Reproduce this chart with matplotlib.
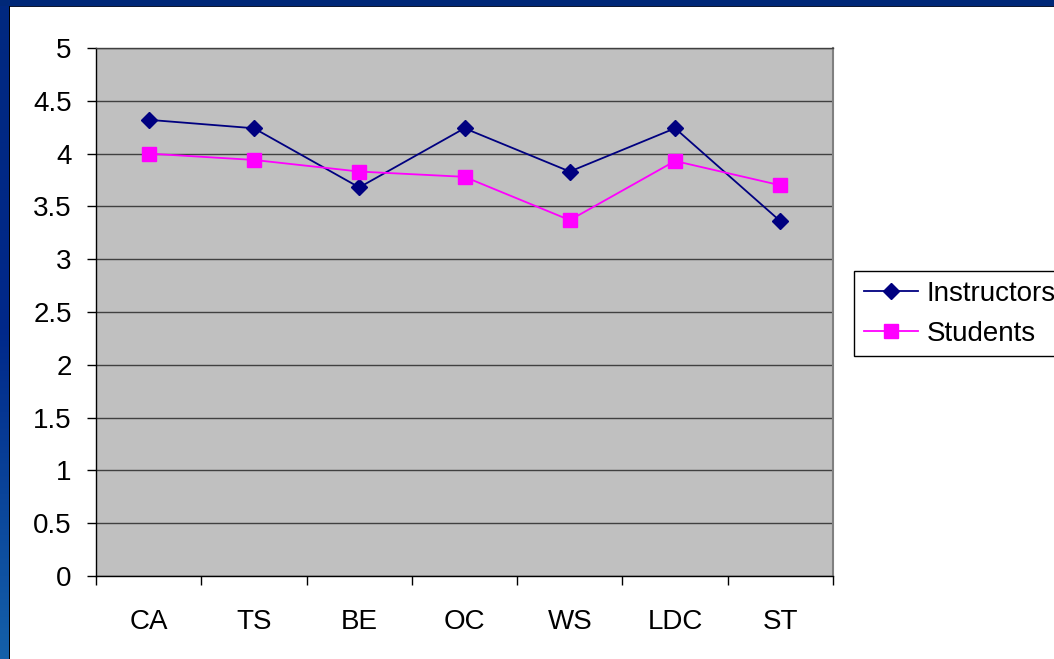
import matplotlib
matplotlib.use("Agg")
import matplotlib.pyplot as plt
import numpy as np
from matplotlib.patches import Rectangle
from matplotlib.colors import LinearSegmentedColormap

categories = ["CA", "TS", "BE", "OC", "WS", "LDC", "ST"]
instructors = [4.32, 4.24, 3.68, 4.24, 3.83, 4.24, 3.36]
students = [4.00, 3.94, 3.83, 3.78, 3.37, 3.93, 3.70]
yticks = [0, 0.5, 1, 1.5, 2, 2.5, 3, 3.5, 4, 4.5, 5]
ytick_labels = ["0", "0.5", "1", "1.5", "2", "2.5", "3", "3.5", "4", "4.5", "5"]

plt.rcParams['font.family'] = ['Liberation Sans', 'DejaVu Sans']
FS = 20

W, H = 1054, 659
fig = plt.figure(figsize=(W / 100, H / 100), dpi=100, facecolor='white')

# blue frame: left gradient strip and top strip
grad_ax = fig.add_axes([0, 0, 9 / W, 1])
grad = np.linspace(0, 1, 256).reshape(-1, 1)
cmap = LinearSegmentedColormap.from_list("bl", ["#1460aa", "#00288a", "#002880"])
grad_ax.imshow(grad, aspect='auto', cmap=cmap, origin='lower', extent=[0, 1, 0, 1])
grad_ax.set_axis_off()
fig.add_artist(Rectangle((0, 1 - 6 / H), 1, 6 / H, transform=fig.transFigure,
                         facecolor='#002878', edgecolor='none', zorder=5))
fig.add_artist(Rectangle((9 / W, 1 - 7 / H), 1, 1 / H, transform=fig.transFigure,
                         facecolor='#101830', edgecolor='none', zorder=5))
fig.add_artist(Rectangle((9 / W, 0), 1.2 / W, 1 - 6 / H, transform=fig.transFigure,
                         facecolor='#000000', edgecolor='none', zorder=5))

ax = fig.add_axes([96 / W, 1 - 576 / H, (833 - 96) / W, (576 - 48) / H])
ax.set_facecolor('#c0c0c0')

x = np.arange(len(categories))
ax.plot(x, instructors, color='#000080', lw=1.3, marker='D', ms=8.0,
        markeredgecolor='#000080', markerfacecolor='#000080', label='Instructors', zorder=3)
ax.plot(x, students, color='#ff00ff', lw=1.3, marker='s', ms=9.4,
        markeredgecolor='#ff00ff', markerfacecolor='#ff00ff', label='Students', zorder=3)

ax.set_xlim(-0.5, len(categories) - 0.5)
ax.set_ylim(0, 5)
ax.set_yticks(yticks)
ax.set_yticklabels(ytick_labels, fontsize=FS)
ax.yaxis.grid(True, color='#404040', lw=1.0)
ax.set_axisbelow(True)

ax.set_xticks(x)
ax.set_xticklabels(categories, fontsize=FS)
ax.set_xticks(np.arange(len(categories) + 1) - 0.5, minor=True)
ax.tick_params(axis='x', which='major', length=0, pad=23.5)
ax.tick_params(axis='x', which='minor', length=6.5, width=1, color='black', direction='out')
ax.tick_params(axis='y', length=6.5, width=1, color='black', direction='out', pad=11)

for s in ['left', 'bottom']:
    ax.spines[s].set_color('black')
    ax.spines[s].set_linewidth(1)
ax.spines['right'].set_color('#808080')
ax.spines['right'].set_linewidth(1.5)
ax.spines['top'].set_color('#404040')
ax.spines['top'].set_linewidth(1)

leg = fig.legend(loc='upper left', bbox_to_anchor=(854 / W, 1 - 271 / H),
                 bbox_transform=fig.transFigure, borderaxespad=0, fontsize=FS,
                 frameon=True, fancybox=False, framealpha=1, edgecolor='black',
                 handlelength=1.95, handletextpad=0.32, labelspacing=0.5, borderpad=0.35)
leg.get_frame().set_linewidth(1)

fig.savefig("out.png", dpi=100, facecolor='white')
